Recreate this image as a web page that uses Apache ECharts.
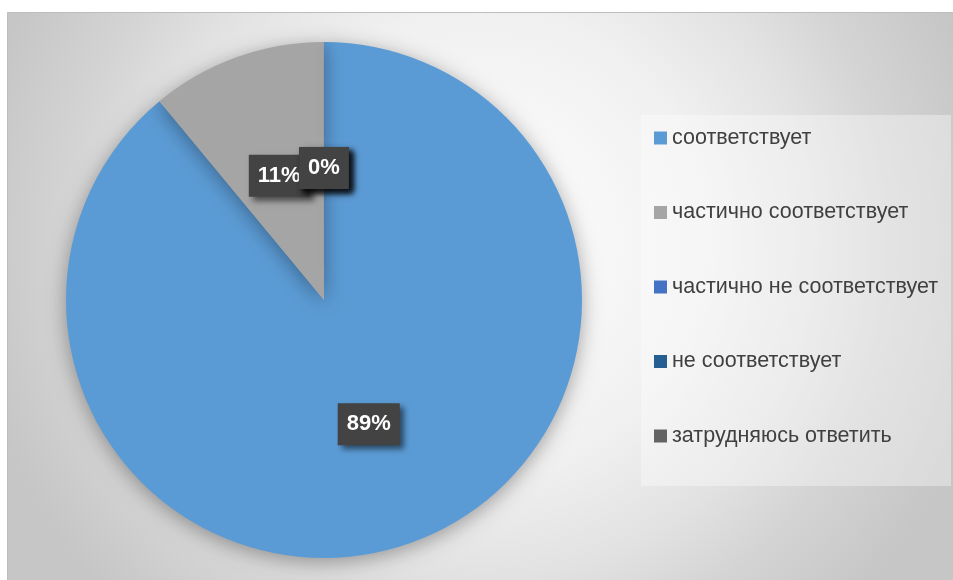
<!DOCTYPE html>
<html>
<head>
<meta charset="utf-8">
<script src="https://cdn.jsdelivr.net/npm/echarts@6/dist/echarts.min.js"></script>
<style>
  html, body { margin: 0; padding: 0; background: #fff; }
  #main { width: 953px; height: 580px; }
</style>
</head>
<body>
<div id="main"></div>
<script>
// данные диаграммы
var categories = ['соответствует', 'частично соответствует', 'частично не соответствует', 'не соответствует', 'затрудняюсь ответить'];
var percents = [89, 11, 0, 0, 0];
var colors = ['#5B9BD5', '#A5A5A5', '#4472C4', '#255E91', '#636363'];

var myChart = echarts.init(document.getElementById('main'));

var pieData = categories.map(function (name, i) {
  return { name: name, value: percents[i], itemStyle: { color: colors[i] } };
});

var option = {
  backgroundColor: '#ffffff',
  animation: false,
  graphic: [
    {
      // фон области диаграммы
      type: 'rect',
      z: -10,
      shape: { x: 7.5, y: 12.5, width: 950, height: 572 },
      style: {
        fill: {
          type: 'radial', x: 0.5, y: 0.4, r: 0.9,
          colorStops: [
            { offset: 0, color: '#ffffff' },
            { offset: 0.45, color: '#f0f0f0' },
            { offset: 0.65, color: '#e2e2e2' },
            { offset: 0.8, color: '#d4d4d4' },
            { offset: 1, color: '#c6c6c6' }
          ]
        },
        stroke: '#bdbdbd',
        lineWidth: 1
      }
    },
    {
      // фон легенды
      type: 'rect',
      z: -9,
      shape: { x: 641, y: 115, width: 310, height: 371 },
      style: { fill: 'rgba(255,255,255,0.35)' }
    }
  ],
  legend: {
    orient: 'vertical',
    left: 654,
    top: 127,
    padding: 0,
    itemGap: 52.5,
    itemWidth: 13,
    itemHeight: 13,
    icon: 'rect',
    data: categories,
    textStyle: {
      fontFamily: 'Liberation Sans',
      fontSize: 21.5,
      lineHeight: 20,
      color: '#404040'
    }
  },
  series: [{
    type: 'pie',
    center: [324, 300],
    radius: 258,
    startAngle: 90,
    clockwise: true,
    minAngle: 0.01, // чтобы подписи 0% тоже выводились
    minShowLabelAngle: -1,
    avoidLabelOverlap: false,
    labelLayout: { hideOverlap: false },
    data: pieData,
    itemStyle: {
      shadowBlur: 20,
      shadowOffsetY: 4,
      shadowColor: 'rgba(0,0,0,0.35)'
    },
    emphasis: { disabled: true },
    labelLine: { show: false },
    label: {
      show: true,
      position: 'inside',
      formatter: '{c}%',
      fontFamily: 'Liberation Sans',
      fontSize: 22,
      fontWeight: 'bold',
      lineHeight: 24,
      color: '#ffffff',
      backgroundColor: '#434343',
      padding: [9, 9, 9, 9],
      shadowColor: 'rgba(0,0,0,0.55)',
      shadowBlur: 6,
      shadowOffsetX: 4,
      shadowOffsetY: 4
    }
  }]
};

option && myChart.setOption(option);
</script>
</body>
</html>
